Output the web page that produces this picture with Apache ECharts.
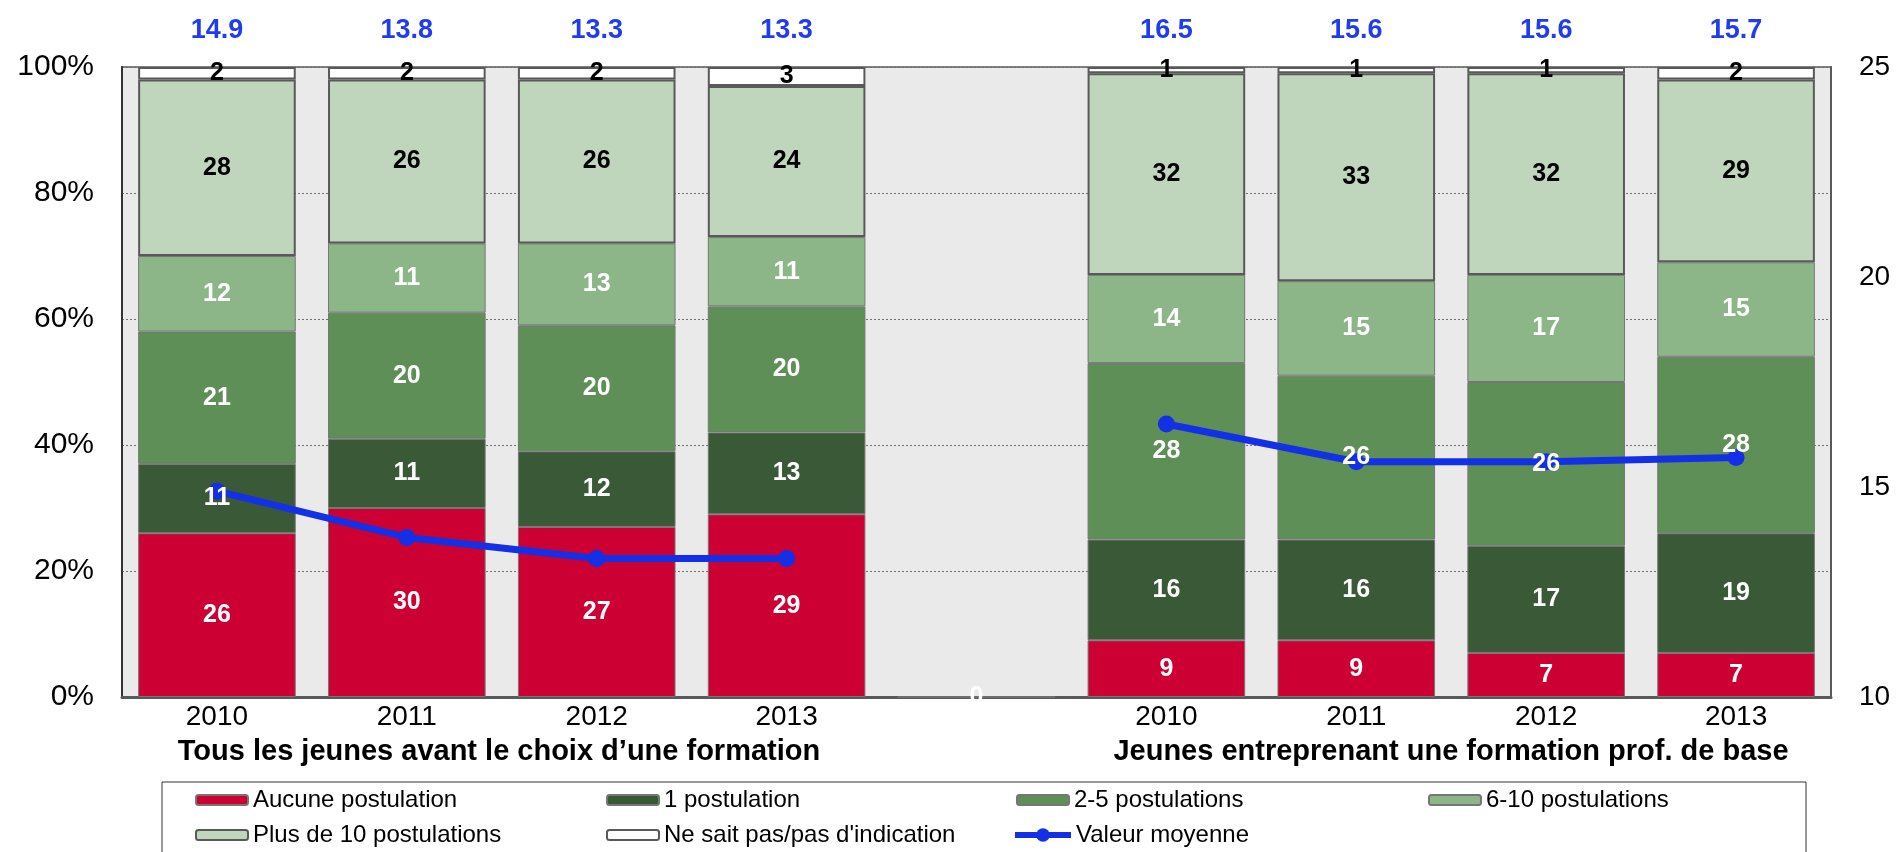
<!DOCTYPE html>
<html>
<head>
<meta charset="utf-8">
<title>Postulations</title>
<script src="https://cdn.jsdelivr.net/npm/echarts@6.0.0/dist/echarts.min.js"></script>
<style>
html,body{margin:0;padding:0;background:#fff;}
#chart{width:1898px;height:852px;}
</style>
</head>
<body>
<div id="chart"></div>
<script>
// categories (empty slot separates the two groups)
const years = ['2010', '2011', '2012', '2013', '', '2010', '2011', '2012', '2013'];
const groupTitles = ['Tous les jeunes avant le choix d\u2019une formation', 'Jeunes entreprenant une formation prof. de base'];

// shares in %
const aucune = [26, 30, 27, 29, 0, 9, 9, 7, 7];
const une = [11, 11, 12, 13, '-', 16, 16, 17, 19];
const deuxCinq = [21, 20, 20, 20, '-', 28, 26, 26, 28];
const sixDix = [12, 11, 13, 11, '-', 14, 15, 17, 15];
const plusDix = [28, 26, 26, 24, '-', 32, 33, 32, 29];
const neSaitPas = [2, 2, 2, 3, '-', 1, 1, 1, 2];

// mean number of applications (right axis)
const moyenne = [14.9, 13.8, 13.3, 13.3, '-', 16.5, 15.6, 15.6, 15.7];
const meanLabels = moyenne.map(v => v === '-' ? '' : v.toFixed(1));

const font = "'Liberation Sans', Arial, sans-serif";
const blue = '#1430e6';

let chart = echarts.init(document.getElementById('chart'));

function labelStyle(color, show) {
    return {
        show: show,
        position: 'inside',
        color: color,
        fontWeight: 'bold',
        fontSize: 25,
        fontFamily: font
    };
}

function barSeries(name, data, color, labelColor, strong, showLabel) {
    return {
        name: name,
        type: 'bar',
        stack: 'total',
        data: data,
        barWidth: '83%',
        barGap: '-100%',
        legendIcon: 'rect',
        itemStyle: {
            color: color,
            borderColor: strong ? '#595959' : '#767676',
            borderWidth: strong ? 2 : 1
        },
        label: labelStyle(labelColor, showLabel),
        emphasis: { disabled: true }
    };
}

// invisible copy of the lower segments, drawn above the line so their labels stay readable
function overlaySeries(name, data, showLabel) {
    return {
        name: name,
        type: 'bar',
        stack: 'overlay',
        data: data,
        barWidth: '83%',
        barGap: '-100%',
        z: 4,
        silent: true,
        itemStyle: { color: 'rgba(0,0,0,0)', borderWidth: 0 },
        label: labelStyle('#fff', showLabel),
        emphasis: { disabled: true }
    };
}

// legend laid out in 4 columns, 2 rows
const legendItems = [
    { names: ['Aucune postulation', 'Plus de 10 postulations'], left: 195, top: 788 },
    { names: ['1 postulation', "Ne sait pas/pas d'indication"], left: 606, top: 788 },
    { names: ['2-5 postulations'], left: 1016, top: 788 },
    { names: ['6-10 postulations'], left: 1428, top: 788 }
];

function legendBlock(item) {
    return {
        data: item.names,
        orient: 'vertical',
        left: item.left,
        top: item.top,
        padding: 0,
        itemWidth: 52,
        itemHeight: 10,
        itemGap: 11,
        textStyle: { fontSize: 24, color: '#000', fontFamily: font }
    };
}

let legends = legendItems.map(legendBlock);
// the line entry gets a thicker icon
legends.push({
    data: ['Valeur moyenne'],
    left: 1012,
    top: 823,
    padding: 0,
    itemWidth: 56,
    itemHeight: 17,
    lineStyle: { width: 6 },
    textStyle: { fontSize: 24, color: '#000', fontFamily: font }
});

let option = {
    animation: false,
    textStyle: { fontFamily: font },
    grid: {
        left: 122,
        top: 67,
        width: 1709,
        height: 630,
        show: true,
        backgroundColor: '#eaeaea',
        borderColor: '#808080',
        borderWidth: 2
    },
    legend: legends,
    graphic: [
        {
            type: 'rect',
            shape: { x: 162, y: 782, width: 1644, height: 120 },
            style: { fill: 'none', stroke: '#333', lineWidth: 1 }
        },
        {
            type: 'text',
            x: 499,
            y: 752,
            style: {
                text: groupTitles[0],
                font: 'bold 29px ' + font,
                textAlign: 'center',
                textVerticalAlign: 'middle',
                fill: '#000'
            }
        },
        {
            type: 'text',
            x: 1451,
            y: 752,
            style: {
                text: groupTitles[1],
                font: 'bold 29px ' + font,
                textAlign: 'center',
                textVerticalAlign: 'middle',
                fill: '#000'
            }
        }
    ],
    xAxis: [
        {
            type: 'category',
            data: years,
            axisLine: { lineStyle: { color: '#595959', width: 3 } },
            axisTick: { show: false },
            axisLabel: { interval: 0, fontSize: 28, color: '#000', margin: 6 }
        },
        {
            type: 'category',
            position: 'top',
            data: meanLabels,
            axisLine: { show: false },
            axisTick: { show: false },
            splitLine: { show: false },
            axisLabel: { interval: 0, fontSize: 27, fontWeight: 'bold', color: '#1f3cf0', margin: 23 }
        }
    ],
    yAxis: [
        {
            type: 'value',
            min: 0,
            max: 100,
            interval: 20,
            axisLine: { show: true, lineStyle: { color: '#333', width: 2 } },
            axisTick: { show: false },
            axisLabel: { formatter: '{value}%', fontSize: 30, color: '#000', margin: 28 },
            splitLine: { lineStyle: { color: '#707070', type: [2, 2], width: 1 } }
        },
        {
            type: 'value',
            min: 10,
            max: 25,
            interval: 5,
            position: 'right',
            axisLine: { show: true, lineStyle: { color: '#595959', width: 2 } },
            axisTick: { show: false },
            axisLabel: { fontSize: 28, color: '#000', margin: 28 },
            splitLine: { show: false }
        }
    ],
    series: [
        barSeries('Aucune postulation', aucune, '#cc0033', '#fff', false, true),
        barSeries('1 postulation', une, '#3a5936', '#fff', false, false),
        barSeries('2-5 postulations', deuxCinq, '#5e8f57', '#fff', false, false),
        barSeries('6-10 postulations', sixDix, '#8db688', '#fff', false, true),
        barSeries('Plus de 10 postulations', plusDix, '#bfd6bc', '#000', true, true),
        barSeries("Ne sait pas/pas d'indication", neSaitPas, '#ffffff', '#000', true, true),
        {
            name: 'Valeur moyenne',
            type: 'line',
            yAxisIndex: 1,
            data: moyenne,
            symbol: 'circle',
            symbolSize: 17,
            lineStyle: { color: blue, width: 7 },
            itemStyle: { color: blue },
            emphasis: { disabled: true }
        },
        overlaySeries('overlay-base', aucune, false),
        overlaySeries('overlay-1', une, true),
        overlaySeries('overlay-2-5', deuxCinq, true)
    ]
};

chart.setOption(option);
</script>
</body>
</html>
